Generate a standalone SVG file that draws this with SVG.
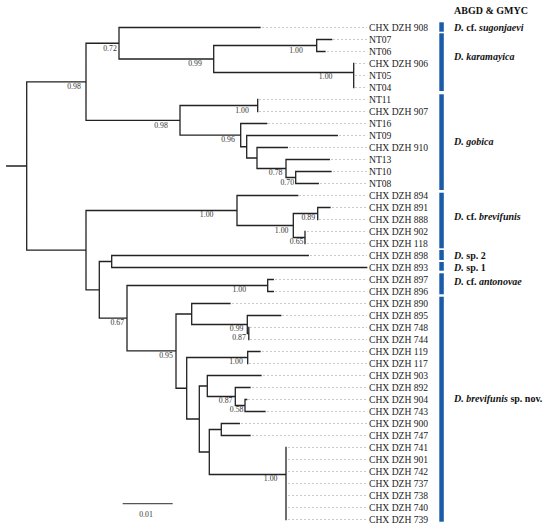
<svg xmlns="http://www.w3.org/2000/svg" width="550" height="528" viewBox="0 0 550 528">
<style>
.br{fill:none;stroke:#222;stroke-width:1.3;stroke-linecap:square}
.ld{fill:none;stroke:#c4c4c4;stroke-width:0.9;stroke-dasharray:2,2}
.tip{font-family:"Liberation Serif",serif;font-size:9.6px;fill:#222}
.sup{font-family:"Liberation Serif",serif;font-size:7.8px;fill:#333;text-anchor:middle}
.grp{font-family:"Liberation Serif",serif;font-size:10px;font-weight:bold;fill:#111}
.bar{fill:#1b5ca8}
#support,#scale{opacity:0.99}
</style>
<rect width="550" height="528" fill="#fff"/>
<g id="connectors">
<path class="br" d="M6.7,166H26.7M26.7,81.8V250.2
M26.7,81.8H86M86,43.25V120.3
M86,43.25H119M119,27.5V59M119,27.5H260
M119,59H213.7M213.7,45.5V72.5
M213.7,45.5H316.7M316.7,39.5V51.5M316.7,39.5H331.7M316.7,51.5H325
M213.7,72.5H353.7M353.7,63.5V87.5
M86,120.3H180M180,105.5V135.1
M180,105.5H257.7M257.7,99.5V111.5
M180,135.1H240.7M240.7,123.5V146.75M240.7,123.5H266.7
M240.7,146.75H246.7M246.7,135.5V158M246.7,135.5H337.3
M246.7,158H257M257,147.5V168.5M257,147.5H287.3
M257,168.5H286M286,159.5V177.5M286,159.5H329.3
M286,177.5H295.7M295.7,171.5V183.5M295.7,171.5H331M295.7,183.5H318.3
M26.7,250.2H86M86,210.5V289.8
M86,210.5H237M237,195.5V225.5M237,195.5H297.7
M237,225.5H293.3M293.3,213.5V237.5
M293.3,213.5H317.7M317.7,207.5V219.5M317.7,207.5H330
M293.3,237.5H305M305,231.5V243.5
M86,289.8H99.3M99.3,261.5V318.1
M99.3,261.5H111.7M111.7,255.5V267.5M111.7,255.5H308.3M111.7,267.5H366.7
M99.3,318.1H127M127,285.5V350.8
M127,285.5H267.7M267.7,279.5V291.5M267.7,279.5H273.3M267.7,291.5H273.3
M127,350.8H176M176,314V388.25
M176,314H191.7M191.7,303.5V324.5M191.7,303.5H230
M191.7,324.5H247.3M247.3,315.5V333.5M247.3,315.5H280.7
M247.3,333.5H248.8M248.8,327.5V339.5
M176,388.25H186.7M186.7,357.5V419
M186.7,357.5H247.7M247.7,351.5V363.5M247.7,351.5H260
M186.7,419H199.3M199.3,386V452
M199.3,386H207.3M207.3,375.5V396.5M207.3,375.5H261
M207.3,396.5H235.3M235.3,387.5V405.5M235.3,387.5H250
M235.3,405.5H245M245,399.5V411.5M245,399.5H246.7M245,411.5H265
M199.3,452H209.3M209.3,429.5V474.5
M209.3,429.5H221.3M221.3,423.5V435.5M221.3,423.5H239.3M221.3,435.5H250
M209.3,474.5H286M286,447.5V519.5"/>
<path class="ld" d="M262,27.5H367M333,39.5H367M327,51.5H367M355,63.5H367M355,75.5H367M355,87.5H367
M259,99.5H367M259,111.5H367M268,123.5H367M339,135.5H367M289,147.5H367M331,159.5H367M333,171.5H367M320,183.5H367
M299,195.5H367M332,207.5H367M319,219.5H367M307,231.5H367M307,243.5H367M310,255.5H367
M275,279.5H367M275,291.5H367M232,303.5H367M282,315.5H367M250,327.5H367M250,339.5H367
M262,351.5H367M249,363.5H367M263,375.5H367M252,387.5H367M248,399.5H367M267,411.5H367M241,423.5H367M252,435.5H367
M288,447.5H367M288,459.5H367M288,471.5H367M288,483.5H367M288,495.5H367M288,507.5H367M288,519.5H367"/>
</g>
<g id="support">
<text class="sup" x="74" y="88.7">0.98</text>
<text class="sup" x="110" y="51">0.72</text>
<text class="sup" x="195" y="66">0.99</text>
<text class="sup" x="296" y="53.4">1.00</text>
<text class="sup" x="325.7" y="79.4">1.00</text>
<text class="sup" x="161" y="127.7">0.98</text>
<text class="sup" x="242" y="112.7">1.00</text>
<text class="sup" x="228" y="142">0.96</text>
<text class="sup" x="275.7" y="175.4">0.78</text>
<text class="sup" x="287.3" y="185">0.70</text>
<text class="sup" x="206.7" y="216.7">1.00</text>
<text class="sup" x="308.3" y="220">0.89</text>
<text class="sup" x="281.7" y="232.7">1.00</text>
<text class="sup" x="296.7" y="244.4">0.65</text>
<text class="sup" x="239.3" y="291.7">1.00</text>
<text class="sup" x="117.3" y="325">0.67</text>
<text class="sup" x="236.7" y="331">0.99</text>
<text class="sup" x="239" y="340">0.87</text>
<text class="sup" x="166" y="357.7">0.95</text>
<text class="sup" x="236" y="363.7">1.00</text>
<text class="sup" x="225.7" y="402.7">0.87</text>
<text class="sup" x="236.7" y="411.7">0.58</text>
<text class="sup" x="270.7" y="481">1.00</text>
</g>
<g id="tips">
<text class="tip" x="369" y="30.8">CHX DZH 908</text>
<text class="tip" x="369" y="42.8">NT07</text>
<text class="tip" x="369" y="54.8">NT06</text>
<text class="tip" x="369" y="66.8">CHX DZH 906</text>
<text class="tip" x="369" y="78.8">NT05</text>
<text class="tip" x="369" y="90.8">NT04</text>
<text class="tip" x="369" y="102.8">NT11</text>
<text class="tip" x="369" y="114.8">CHX DZH 907</text>
<text class="tip" x="369" y="126.8">NT16</text>
<text class="tip" x="369" y="138.8">NT09</text>
<text class="tip" x="369" y="150.8">CHX DZH 910</text>
<text class="tip" x="369" y="162.8">NT13</text>
<text class="tip" x="369" y="174.8">NT10</text>
<text class="tip" x="369" y="186.8">NT08</text>
<text class="tip" x="369" y="198.8">CHX DZH 894</text>
<text class="tip" x="369" y="210.8">CHX DZH 891</text>
<text class="tip" x="369" y="222.8">CHX DZH 888</text>
<text class="tip" x="369" y="234.8">CHX DZH 902</text>
<text class="tip" x="369" y="246.8">CHX DZH 118</text>
<text class="tip" x="369" y="258.8">CHX DZH 898</text>
<text class="tip" x="369" y="270.8">CHX DZH 893</text>
<text class="tip" x="369" y="282.8">CHX DZH 897</text>
<text class="tip" x="369" y="294.8">CHX DZH 896</text>
<text class="tip" x="369" y="306.8">CHX DZH 890</text>
<text class="tip" x="369" y="318.8">CHX DZH 895</text>
<text class="tip" x="369" y="330.8">CHX DZH 748</text>
<text class="tip" x="369" y="342.8">CHX DZH 744</text>
<text class="tip" x="369" y="354.8">CHX DZH 119</text>
<text class="tip" x="369" y="366.8">CHX DZH 117</text>
<text class="tip" x="369" y="378.8">CHX DZH 903</text>
<text class="tip" x="369" y="390.8">CHX DZH 892</text>
<text class="tip" x="369" y="402.8">CHX DZH 904</text>
<text class="tip" x="369" y="414.8">CHX DZH 743</text>
<text class="tip" x="369" y="426.8">CHX DZH 900</text>
<text class="tip" x="369" y="438.8">CHX DZH 747</text>
<text class="tip" x="369" y="450.8">CHX DZH 741</text>
<text class="tip" x="369" y="462.8">CHX DZH 901</text>
<text class="tip" x="369" y="474.8">CHX DZH 742</text>
<text class="tip" x="369" y="486.8">CHX DZH 737</text>
<text class="tip" x="369" y="498.8">CHX DZH 738</text>
<text class="tip" x="369" y="510.8">CHX DZH 740</text>
<text class="tip" x="369" y="522.8">CHX DZH 739</text>
</g>
<g id="legend">
<text class="grp" x="454" y="13.5">ABGD &amp; GMYC</text>
<g id="g-sugonjaevi"><rect class="bar" x="439.3" y="22.3" width="4.5" height="9.4"/><text class="grp" x="454" y="31"><tspan font-style="italic">D.</tspan> cf. <tspan font-style="italic">sugonjaevi</tspan></text></g>
<g id="g-karamayica"><rect class="bar" x="439.3" y="33.3" width="4.5" height="57.7"/><text class="grp" x="454" y="59.5" font-style="italic">D. karamayica</text></g>
<g id="g-gobica"><rect class="bar" x="439.3" y="94.3" width="4.5" height="95.7"/><text class="grp" x="454" y="144.8" font-style="italic">D. gobica</text></g>
<g id="g-cfbrevifunis"><rect class="bar" x="439.3" y="192.7" width="4.5" height="55.6"/><text class="grp" x="454" y="220"><tspan font-style="italic">D.</tspan> cf. <tspan font-style="italic">brevifunis</tspan></text></g>
<g id="g-sp2"><rect class="bar" x="439.3" y="250" width="4.5" height="10"/><text class="grp" x="454" y="258.5"><tspan font-style="italic">D.</tspan> sp. 2</text></g>
<g id="g-sp1"><rect class="bar" x="439.3" y="262" width="4.5" height="8.7"/><text class="grp" x="454" y="270.5"><tspan font-style="italic">D.</tspan> sp. 1</text></g>
<g id="g-antonovae"><rect class="bar" x="439.3" y="273.3" width="4.5" height="21"/><text class="grp" x="454" y="285"><tspan font-style="italic">D.</tspan> cf. <tspan font-style="italic">antonovae</tspan></text></g>
<g id="g-spnov"><rect class="bar" x="439.3" y="296.7" width="4.5" height="225"/><text class="grp" x="454" y="401.8"><tspan font-style="italic">D. brevifunis</tspan> sp. nov.</text></g>
</g>
<g id="scale">
<path d="M122.7,503.7H172.7" fill="none" stroke="#555" stroke-width="1.3"/>
<text class="sup" x="146" y="517" fill="#555">0.01</text>
</g>
</svg>
